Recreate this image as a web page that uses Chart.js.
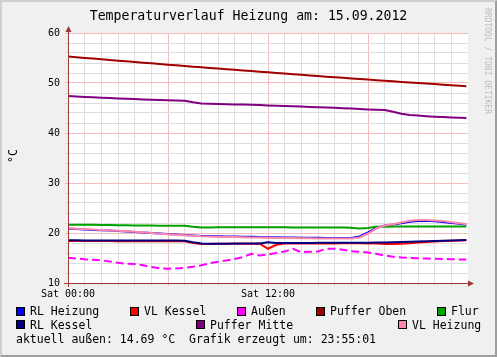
<!DOCTYPE html>
<html><head><meta charset="utf-8">
<script src="https://cdn.jsdelivr.net/npm/chart.js@4/dist/chart.umd.min.js"></script>
<style>
html,body{margin:0;padding:0;background:#f0f0f0;}
#wrap{position:relative;width:497px;height:357px;overflow:hidden;background:#f0f0f0;font-family:"DejaVu Sans Mono",monospace;color:#000;}
#c{position:absolute;left:0;top:0;}
.t{position:absolute;white-space:pre;line-height:14px;font-size:11.5px;}
.sw{position:absolute;width:7px;height:7px;border:1px solid #000;}
#frame{position:absolute;left:0;top:0;width:497px;height:357px;box-sizing:border-box;border-top:2px solid #cfcfcf;border-left:2px solid #cfcfcf;border-right:2px solid #9e9e9e;border-bottom:2px solid #9e9e9e;pointer-events:none;}
</style></head><body>
<div id="wrap">
<canvas id="c" width="497" height="357"></canvas>
<div class="t" style="left:0;width:497px;text-align:center;top:8px;font-size:13.2px;line-height:16px">Temperaturverlauf Heizung am: 15.09.2012</div>
<div class="t" style="left:2px;top:149px;width:21px;text-align:center;font-size:11.5px;transform:rotate(-90deg);">°C</div>
<div class="t" style="left:432px;top:56px;width:110px;text-align:center;font-size:8px;line-height:10px;color:#bcbcbc;transform:rotate(90deg);">RRDTOOL / TOBI OETIKER</div>
<div id="legend"></div>
<div class="t" style="left:16px;top:332px">aktuell außen: 14.69 °C  Grafik erzeugt um: 23:55:01</div>
<div id="frame"></div>
</div>
<script>
// ---- data ----
const hours = [0,0.5,1,1.5,2,2.5,3,3.5,4,4.5,5,5.5,6,6.5,7,7.5,8,8.5,9,9.5,10,10.5,11,11.5,12,12.5,13,13.5,14,14.5,15,15.5,16,16.5,17,17.5,18,18.5,19,19.5,20,20.5,21,21.5,22,22.5,23,23.5,23.9];
const xTickLabels = {0:'Sat 00:00', 12:'Sat 12:00'};
const yTickLabels = [10,20,30,40,50,60];

const rlHeizung = [20.85,20.78,20.70,20.62,20.55,20.48,20.40,20.32,20.22,20.12,
  20.00,19.88,19.78,19.70,19.60,19.50,19.42,19.38,19.35,19.32,
  19.29,19.26,19.23,19.20,19.17,19.14,19.11,19.09,19.07,19.05,
  19.03,19.01,18.99,18.98,19.00,19.30,20.10,21.00,21.50,21.70,
  21.95,22.25,22.42,22.45,22.35,22.22,22.02,21.85,21.65];
const vlKessel = [18.40,18.40,18.39,18.39,18.38,18.38,18.37,18.37,18.36,18.36,
  18.35,18.35,18.34,18.34,18.33,18.00,17.80,17.82,17.84,17.85,
  17.86,17.86,17.87,17.88,16.85,17.65,17.88,17.90,17.90,17.91,
  17.91,17.92,17.92,17.93,17.93,17.93,17.92,17.88,17.80,17.78,
  17.85,17.95,18.10,18.20,18.30,18.38,18.45,18.52,18.55];
const aussen = [15.07,14.90,14.75,14.65,14.55,14.30,14.05,13.85,13.80,13.55,
  13.20,12.95,12.87,12.90,13.05,13.25,13.55,13.95,14.25,14.50,
  14.80,15.20,15.85,15.50,15.70,16.00,16.30,16.85,16.15,16.25,
  16.30,16.85,16.85,16.65,16.35,16.25,16.10,15.85,15.50,15.25,
  15.10,15.00,14.95,14.90,14.85,14.80,14.75,14.72,14.69];
const pufferOben = [55.30,55.16,55.02,54.88,54.75,54.61,54.47,54.34,54.20,54.07,
  53.93,53.80,53.67,53.54,53.40,53.27,53.14,53.01,52.88,52.76,
  52.63,52.50,52.38,52.25,52.13,52.00,51.88,51.76,51.63,51.51,
  51.39,51.27,51.15,51.03,50.92,50.80,50.68,50.57,50.45,50.34,
  50.22,50.11,50.00,49.89,49.78,49.67,49.56,49.45,49.36];
const flur = [21.67,21.66,21.65,21.63,21.60,21.58,21.55,21.53,21.50,21.50,
  21.48,21.47,21.47,21.47,21.46,21.25,21.10,21.12,21.13,21.13,
  21.13,21.13,21.13,21.13,21.13,21.13,21.13,21.12,21.12,21.12,
  21.12,21.10,21.10,21.08,21.05,20.90,21.00,21.25,21.27,21.28,
  21.28,21.28,21.28,21.28,21.29,21.29,21.30,21.30,21.30];
const rlKessel = [18.53,18.53,18.52,18.52,18.52,18.51,18.51,18.50,18.50,18.50,
  18.49,18.49,18.48,18.48,18.47,18.15,17.88,17.87,17.87,17.87,
  17.88,17.88,17.89,17.90,18.13,18.00,18.01,18.01,18.02,18.02,
  18.03,18.03,18.04,18.04,18.05,18.05,18.06,18.08,18.12,18.16,
  18.20,18.25,18.30,18.36,18.42,18.47,18.52,18.56,18.60];
const pufferMitte = [47.40,47.30,47.22,47.14,47.06,46.98,46.90,46.84,46.78,46.72,
  46.66,46.60,46.55,46.50,46.45,46.15,45.90,45.85,45.80,45.76,
  45.72,45.68,45.64,45.58,45.52,45.46,45.40,45.34,45.28,45.22,
  45.16,45.10,45.03,44.96,44.88,44.80,44.72,44.66,44.60,44.25,
  43.85,43.62,43.48,43.36,43.26,43.18,43.11,43.05,43.00];
const vlHeizung = [20.93,20.85,20.77,20.68,20.60,20.52,20.44,20.35,20.25,20.15,
  20.00,19.85,19.75,19.65,19.55,19.45,19.35,19.30,19.26,19.22,
  19.18,19.15,19.12,19.09,19.06,19.03,19.00,18.98,18.96,18.94,
  18.92,18.90,18.88,18.88,18.90,19.10,19.90,20.90,21.50,21.75,
  22.10,22.45,22.58,22.60,22.50,22.38,22.15,21.95,21.75];

const seriesNames = ['RL Heizung','VL Kessel','Außen','Puffer Oben','Flur','RL Kessel','Puffer Mitte','VL Heizung'];
const seriesValues = [rlHeizung, vlKessel, aussen, pufferOben, flur, rlKessel, pufferMitte, vlHeizung];
const seriesColors = ['#0000ff','#ff0000','#ff00ff','#a00000','#00a000','#000080','#800080','#ff88aa'];

// ---- layout (legend placement) ----
const legendPos = [[16,0],[130,0],[237,0],[316,0],[437,0],[16,1],[196,1],[398,1]];
const legendRowTop = [307, 320];
const legendTextTop = [304.3, 317.7];

const lg = document.getElementById('legend');
seriesNames.forEach((n,i)=>{
  const [x,r] = legendPos[i];
  const s = document.createElement('div'); s.className='sw';
  s.style.left = x+'px'; s.style.top = legendRowTop[r]+'px'; s.style.background = seriesColors[i];
  lg.appendChild(s);
  const t = document.createElement('div'); t.className='t';
  t.style.left = (x+14)+'px'; t.style.top = legendTextTop[r]+'px'; t.textContent = n;
  lg.appendChild(t);
});

const MAJOR = '#f4bcbc', MINOR = '#dedede', AXIS = '#a03838';

const deco = {
  id:'deco',
  beforeDraw(chart){
    const {ctx, chartArea:a} = chart;
    ctx.save(); ctx.fillStyle='#ffffff';
    ctx.fillRect(a.left, a.top, a.right-a.left, a.bottom-a.top);
    ctx.restore();
  },
  afterDraw(chart){
    const {ctx, chartArea:a} = chart;
    const x0 = Math.round(a.left)+0.5, y0 = Math.round(a.bottom)+0.5;
    ctx.save();
    ctx.strokeStyle = AXIS; ctx.lineWidth = 1;
    ctx.beginPath();
    ctx.moveTo(a.left-4, y0); ctx.lineTo(a.right+2, y0);
    ctx.moveTo(x0, a.bottom+4); ctx.lineTo(x0, a.top-3);
    ctx.stroke();
    ctx.fillStyle = AXIS;
    ctx.beginPath(); ctx.moveTo(a.right+6, y0); ctx.lineTo(a.right, y0-3); ctx.lineTo(a.right, y0+3); ctx.closePath(); ctx.fill();
    ctx.beginPath(); ctx.moveTo(x0, a.top-7); ctx.lineTo(x0-3, a.top-1); ctx.lineTo(x0+3, a.top-1); ctx.closePath(); ctx.fill();
    ctx.restore();
  }
};

Chart.defaults.font.family = '"DejaVu Sans Mono", monospace';
Chart.defaults.color = '#000';

new Chart(document.getElementById('c'), {
  type:'line',
  data:{
    datasets: seriesNames.map((n,i)=>({
      label:n,
      data: hours.map((h,j)=>({x:h, y:seriesValues[i][j]})),
      borderColor: seriesColors[i],
      backgroundColor: seriesColors[i],
      borderWidth: 2,
      pointRadius: 0,
      tension: 0,
      fill: false,
      borderDash: n==='Außen' ? [8,4] : [],
      order: seriesNames.length-1-i
    }))
  },
  options:{
    responsive:false, animation:false, devicePixelRatio:1,
    layout:{padding:{left:0, top:33, right:29, bottom:54}},
    plugins:{legend:{display:false}, tooltip:{enabled:false}, title:{display:false}},
    scales:{
      x:{
        type:'linear', min:0, max:24,
        afterFit(s){ s.height = 20; },
        border:{display:false},
        grid:{
          color(ctx){ const v = ctx.tick ? ctx.tick.value : 0; if (v===24) return 'rgba(0,0,0,0)'; return v%6===0 ? MAJOR : MINOR; },
          tickLength:3, drawTicks:true
        },
        ticks:{stepSize:1, autoSkip:false, maxRotation:0, padding:2, font:{size:10},
          callback(v){ return xTickLabels[v] || ''; }}
      },
      y:{
        min:10, max:60,
        afterFit(s){ s.width = 68; },
        border:{display:false},
        grid:{
          color(ctx){ const v = ctx.tick ? ctx.tick.value : 0; return v%10===0 ? MAJOR : MINOR; },
          tickLength:3, drawTicks:true
        },
        ticks:{stepSize:2, autoSkip:false, padding:5, font:{size:10},
          callback(v){ return yTickLabels.includes(v) ? String(v) : ''; }}
      }
    }
  },
  plugins:[deco]
});
</script>
</body></html>
